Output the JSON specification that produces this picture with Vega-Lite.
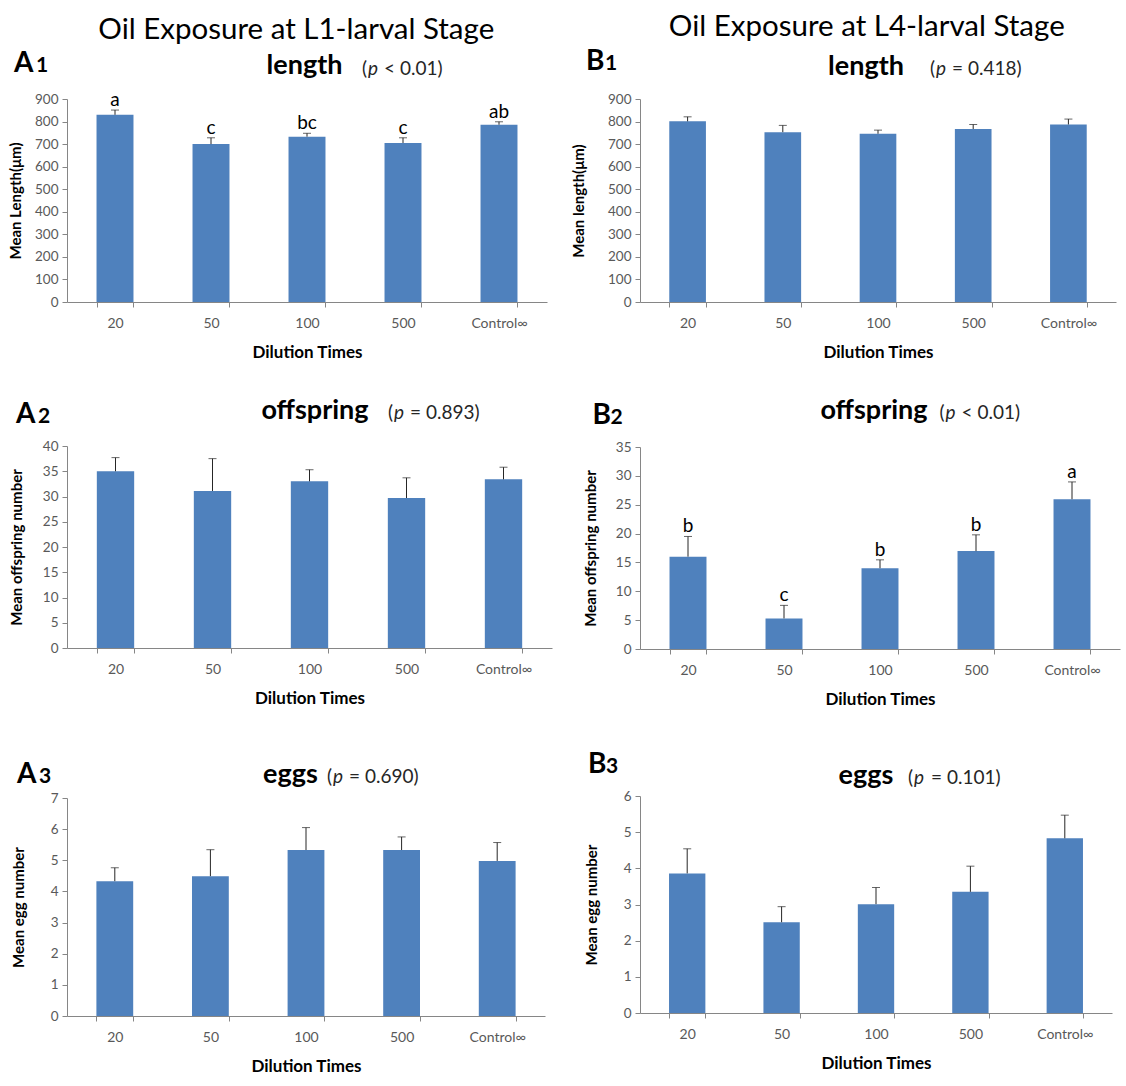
{
  "$schema": "https://vega.github.io/schema/vega-lite/v6.json",
  "background": "white",
  "padding": {"left": 8, "top": 12, "right": 2, "bottom": 2},
  "datasets": {
    "bars": [
      {"panel": "A1", "dilution": "20", "mean": 830, "upper": 851, "letter": "a"},
      {"panel": "A1", "dilution": "50", "mean": 700, "upper": 728, "letter": "c"},
      {"panel": "A1", "dilution": "100", "mean": 733, "upper": 748, "letter": "bc"},
      {"panel": "A1", "dilution": "500", "mean": 705, "upper": 728, "letter": "c"},
      {"panel": "A1", "dilution": "Control∞", "mean": 786, "upper": 799, "letter": "ab"},
      {"panel": "A2", "dilution": "20", "mean": 35.0, "upper": 37.7, "letter": ""},
      {"panel": "A2", "dilution": "50", "mean": 31.1, "upper": 37.5, "letter": ""},
      {"panel": "A2", "dilution": "100", "mean": 33.0, "upper": 35.3, "letter": ""},
      {"panel": "A2", "dilution": "500", "mean": 29.7, "upper": 33.7, "letter": ""},
      {"panel": "A2", "dilution": "Control∞", "mean": 33.4, "upper": 35.8, "letter": ""},
      {"panel": "A3", "dilution": "20", "mean": 4.33, "upper": 4.76, "letter": ""},
      {"panel": "A3", "dilution": "50", "mean": 4.49, "upper": 5.34, "letter": ""},
      {"panel": "A3", "dilution": "100", "mean": 5.33, "upper": 6.05, "letter": ""},
      {"panel": "A3", "dilution": "500", "mean": 5.33, "upper": 5.75, "letter": ""},
      {"panel": "A3", "dilution": "Control∞", "mean": 4.98, "upper": 5.57, "letter": ""},
      {"panel": "B1", "dilution": "20", "mean": 801, "upper": 821, "letter": ""},
      {"panel": "B1", "dilution": "50", "mean": 753, "upper": 783, "letter": ""},
      {"panel": "B1", "dilution": "100", "mean": 746, "upper": 762, "letter": ""},
      {"panel": "B1", "dilution": "500", "mean": 767, "upper": 787, "letter": ""},
      {"panel": "B1", "dilution": "Control∞", "mean": 787, "upper": 811, "letter": ""},
      {"panel": "B2", "dilution": "20", "mean": 16.0, "upper": 19.5, "letter": "b"},
      {"panel": "B2", "dilution": "50", "mean": 5.3, "upper": 7.56, "letter": "c"},
      {"panel": "B2", "dilution": "100", "mean": 14.0, "upper": 15.45, "letter": "b"},
      {"panel": "B2", "dilution": "500", "mean": 16.96, "upper": 19.78, "letter": "b"},
      {"panel": "B2", "dilution": "Control∞", "mean": 25.95, "upper": 28.95, "letter": "a"},
      {"panel": "B3", "dilution": "20", "mean": 3.86, "upper": 4.54, "letter": ""},
      {"panel": "B3", "dilution": "50", "mean": 2.51, "upper": 2.94, "letter": ""},
      {"panel": "B3", "dilution": "100", "mean": 3.01, "upper": 3.47, "letter": ""},
      {"panel": "B3", "dilution": "500", "mean": 3.35, "upper": 4.06, "letter": ""},
      {"panel": "B3", "dilution": "Control∞", "mean": 4.83, "upper": 5.47, "letter": ""}
    ],
    "panels": [
      {"panel": "A1", "letter": "A", "num": "1", "title": "length", "rest": "< 0.01)"},
      {"panel": "A2", "letter": "A", "num": "2", "title": "offspring", "rest": "= 0.893)"},
      {"panel": "A3", "letter": "A", "num": "3", "title": "eggs", "rest": "= 0.690)"},
      {"panel": "B1", "letter": "B", "num": "1", "title": "length", "rest": "= 0.418)"},
      {"panel": "B2", "letter": "B", "num": "2", "title": "offspring", "rest": "< 0.01)"},
      {"panel": "B3", "letter": "B", "num": "3", "title": "eggs", "rest": "= 0.101)"}
    ]
  },
  "spacing": 19,
  "hconcat": [
    {
      "title": {"text": "Oil Exposure at L1-larval Stage", "dx": 16},
      "spacing": 36,
      "vconcat": [
        {
          "width": 480, "height": 203,
          "layer": [
            {"data": {"name": "bars"}, "transform": [{"filter": "datum.panel === 'A1'"}],
             "mark": {"type": "bar", "color": "#4F81BD"},
             "encoding": {
               "x": {"field": "dilution", "type": "nominal", "scale": {"domain": ["20", "50", "100", "500", "Control∞"], "paddingInner": 0.615, "paddingOuter": 0.3075}, "axis": {"title": "Dilution Times", "labelOverlap": false}},
               "y": {"field": "mean", "type": "quantitative", "scale": {"domain": [0, 900], "nice": false}, "axis": {"title": "Mean Length(μm)", "values": [0, 100, 200, 300, 400, 500, 600, 700, 800, 900], "tickCount": 10, "labelOverlap": false, "titlePadding": 11}}}},
            {"data": {"name": "bars"}, "transform": [{"filter": "datum.panel === 'A1'"}],
             "mark": {"type": "rule", "color": "#262626", "strokeWidth": 1},
             "encoding": {"x": {"field": "dilution", "type": "nominal"}, "y": {"field": "mean", "type": "quantitative"}, "y2": {"field": "upper"}}},
            {"data": {"name": "bars"}, "transform": [{"filter": "datum.panel === 'A1'"}],
             "mark": {"type": "tick", "color": "#262626", "size": 8, "thickness": 1},
             "encoding": {"x": {"field": "dilution", "type": "nominal"}, "y": {"field": "upper", "type": "quantitative"}}},
            {"data": {"name": "bars"}, "transform": [{"filter": "datum.panel === 'A1'"}],
             "mark": {"type": "text", "fontSize": 19, "dy": -4, "baseline": "alphabetic", "color": "#000000"},
             "encoding": {"x": {"field": "dilution", "type": "nominal"}, "y": {"field": "upper", "type": "quantitative"}, "text": {"field": "letter"}}},
            {"data": {"name": "panels"}, "transform": [{"filter": "datum.panel === 'A1'"}],
             "mark": {"type": "text", "fontSize": 28, "fontWeight": "bold", "align": "left", "baseline": "alphabetic", "color": "#000000", "dx": -101},
             "encoding": {"x": {"datum": "20"}, "y": {"datum": 1019.7}, "text": {"field": "letter"}}},
            {"data": {"name": "panels"}, "transform": [{"filter": "datum.panel === 'A1'"}],
             "mark": {"type": "text", "fontSize": 21, "fontWeight": "bold", "align": "left", "baseline": "alphabetic", "color": "#000000", "dx": -79},
             "encoding": {"x": {"datum": "20"}, "y": {"datum": 1019.7}, "text": {"field": "num"}}},
            {"data": {"name": "panels"}, "transform": [{"filter": "datum.panel === 'A1'"}],
             "mark": {"type": "text", "fontSize": 27, "fontWeight": "bold", "align": "center", "baseline": "alphabetic", "color": "#000000", "dx": -2.5},
             "encoding": {"x": {"datum": "100"}, "y": {"datum": 1010.8}, "text": {"field": "title"}}},
            {"data": {"name": "panels"}, "transform": [{"filter": "datum.panel === 'A1'"}],
             "mark": {"type": "text", "text": "(", "fontSize": 19, "align": "left", "baseline": "alphabetic", "color": "#262626", "dx": 55},
             "encoding": {"x": {"datum": "100"}, "y": {"datum": 1006.4}}},
            {"data": {"name": "panels"}, "transform": [{"filter": "datum.panel === 'A1'"}],
             "mark": {"type": "text", "text": "p", "fontSize": 19, "fontStyle": "italic", "align": "left", "baseline": "alphabetic", "color": "#262626", "dx": 61},
             "encoding": {"x": {"datum": "100"}, "y": {"datum": 1006.4}}},
            {"data": {"name": "panels"}, "transform": [{"filter": "datum.panel === 'A1'"}],
             "mark": {"type": "text", "fontSize": 19, "align": "left", "baseline": "alphabetic", "color": "#262626", "dx": 77},
             "encoding": {"x": {"datum": "100"}, "y": {"datum": 1006.4}, "text": {"field": "rest"}}}
          ]
        },
        {
          "spacing": 54,
          "vconcat": [
            {
              "width": 485, "height": 202,
              "layer": [
                {"data": {"name": "bars"}, "transform": [{"filter": "datum.panel === 'A2'"}],
                 "mark": {"type": "bar", "color": "#4F81BD"},
                 "encoding": {
                   "x": {"field": "dilution", "type": "nominal", "scale": {"domain": ["20", "50", "100", "500", "Control∞"], "paddingInner": 0.615, "paddingOuter": 0.3075}, "axis": {"title": "Dilution Times", "labelOverlap": false}},
                   "y": {"field": "mean", "type": "quantitative", "scale": {"domain": [0, 40], "nice": false}, "axis": {"title": "Mean offspring number", "values": [0, 5, 10, 15, 20, 25, 30, 35, 40], "tickCount": 9, "labelOverlap": false, "titlePadding": 18}}}},
                {"data": {"name": "bars"}, "transform": [{"filter": "datum.panel === 'A2'"}],
                 "mark": {"type": "rule", "color": "#262626", "strokeWidth": 1},
                 "encoding": {"x": {"field": "dilution", "type": "nominal"}, "y": {"field": "mean", "type": "quantitative"}, "y2": {"field": "upper"}}},
                {"data": {"name": "bars"}, "transform": [{"filter": "datum.panel === 'A2'"}],
                 "mark": {"type": "tick", "color": "#262626", "size": 8, "thickness": 1},
                 "encoding": {"x": {"field": "dilution", "type": "nominal"}, "y": {"field": "upper", "type": "quantitative"}}},
                {"data": {"name": "panels"}, "transform": [{"filter": "datum.panel === 'A2'"}],
                 "mark": {"type": "text", "fontSize": 28, "fontWeight": "bold", "align": "left", "baseline": "alphabetic", "color": "#000000", "dx": -99.5},
                 "encoding": {"x": {"datum": "20"}, "y": {"datum": 44.55}, "text": {"field": "letter"}}},
                {"data": {"name": "panels"}, "transform": [{"filter": "datum.panel === 'A2'"}],
                 "mark": {"type": "text", "fontSize": 21, "fontWeight": "bold", "align": "left", "baseline": "alphabetic", "color": "#000000", "dx": -77.5},
                 "encoding": {"x": {"datum": "20"}, "y": {"datum": 44.55}, "text": {"field": "num"}}},
                {"data": {"name": "panels"}, "transform": [{"filter": "datum.panel === 'A2'"}],
                 "mark": {"type": "text", "fontSize": 27, "fontWeight": "bold", "align": "center", "baseline": "alphabetic", "color": "#000000", "dx": 5.5},
                 "encoding": {"x": {"datum": "100"}, "y": {"datum": 45.35}, "text": {"field": "title"}}},
                {"data": {"name": "panels"}, "transform": [{"filter": "datum.panel === 'A2'"}],
                 "mark": {"type": "text", "text": "(", "fontSize": 19, "align": "left", "baseline": "alphabetic", "color": "#262626", "dx": 78.5},
                 "encoding": {"x": {"datum": "100"}, "y": {"datum": 45.35}}},
                {"data": {"name": "panels"}, "transform": [{"filter": "datum.panel === 'A2'"}],
                 "mark": {"type": "text", "text": "p", "fontSize": 19, "fontStyle": "italic", "align": "left", "baseline": "alphabetic", "color": "#262626", "dx": 84.5},
                 "encoding": {"x": {"datum": "100"}, "y": {"datum": 45.35}}},
                {"data": {"name": "panels"}, "transform": [{"filter": "datum.panel === 'A2'"}],
                 "mark": {"type": "text", "fontSize": 19, "align": "left", "baseline": "alphabetic", "color": "#262626", "dx": 100.5},
                 "encoding": {"x": {"datum": "100"}, "y": {"datum": 45.35}, "text": {"field": "rest"}}}
              ]
            },
            {
              "width": 478, "height": 218,
              "layer": [
                {"data": {"name": "bars"}, "transform": [{"filter": "datum.panel === 'A3'"}],
                 "mark": {"type": "bar", "color": "#4F81BD"},
                 "encoding": {
                   "x": {"field": "dilution", "type": "nominal", "scale": {"domain": ["20", "50", "100", "500", "Control∞"], "paddingInner": 0.615, "paddingOuter": 0.3075}, "axis": {"title": "Dilution Times", "labelOverlap": false}},
                   "y": {"field": "mean", "type": "quantitative", "scale": {"domain": [0, 7], "nice": false}, "axis": {"title": "Mean egg number", "values": [0, 1, 2, 3, 4, 5, 6, 7], "tickCount": 8, "labelOverlap": false, "titlePadding": 24}}}},
                {"data": {"name": "bars"}, "transform": [{"filter": "datum.panel === 'A3'"}],
                 "mark": {"type": "rule", "color": "#262626", "strokeWidth": 1},
                 "encoding": {"x": {"field": "dilution", "type": "nominal"}, "y": {"field": "mean", "type": "quantitative"}, "y2": {"field": "upper"}}},
                {"data": {"name": "bars"}, "transform": [{"filter": "datum.panel === 'A3'"}],
                 "mark": {"type": "tick", "color": "#262626", "size": 8, "thickness": 1},
                 "encoding": {"x": {"field": "dilution", "type": "nominal"}, "y": {"field": "upper", "type": "quantitative"}}},
                {"data": {"name": "panels"}, "transform": [{"filter": "datum.panel === 'A3'"}],
                 "mark": {"type": "text", "fontSize": 28, "fontWeight": "bold", "align": "left", "baseline": "alphabetic", "color": "#000000", "dx": -97.8},
                 "encoding": {"x": {"datum": "20"}, "y": {"datum": 7.482}, "text": {"field": "letter"}}},
                {"data": {"name": "panels"}, "transform": [{"filter": "datum.panel === 'A3'"}],
                 "mark": {"type": "text", "fontSize": 21, "fontWeight": "bold", "align": "left", "baseline": "alphabetic", "color": "#000000", "dx": -75.8},
                 "encoding": {"x": {"datum": "20"}, "y": {"datum": 7.482}, "text": {"field": "num"}}},
                {"data": {"name": "panels"}, "transform": [{"filter": "datum.panel === 'A3'"}],
                 "mark": {"type": "text", "fontSize": 27, "fontWeight": "bold", "align": "center", "baseline": "alphabetic", "color": "#000000", "dx": -15.5},
                 "encoding": {"x": {"datum": "100"}, "y": {"datum": 7.482}, "text": {"field": "title"}}},
                {"data": {"name": "panels"}, "transform": [{"filter": "datum.panel === 'A3'"}],
                 "mark": {"type": "text", "text": "(", "fontSize": 19, "align": "left", "baseline": "alphabetic", "color": "#262626", "dx": 21},
                 "encoding": {"x": {"datum": "100"}, "y": {"datum": 7.482}}},
                {"data": {"name": "panels"}, "transform": [{"filter": "datum.panel === 'A3'"}],
                 "mark": {"type": "text", "text": "p", "fontSize": 19, "fontStyle": "italic", "align": "left", "baseline": "alphabetic", "color": "#262626", "dx": 27},
                 "encoding": {"x": {"datum": "100"}, "y": {"datum": 7.482}}},
                {"data": {"name": "panels"}, "transform": [{"filter": "datum.panel === 'A3'"}],
                 "mark": {"type": "text", "fontSize": 19, "align": "left", "baseline": "alphabetic", "color": "#262626", "dx": 43},
                 "encoding": {"x": {"datum": "100"}, "y": {"datum": 7.482}, "text": {"field": "rest"}}}
              ]
            }
          ]
        }
      ]
    },
    {
      "title": {"text": "Oil Exposure at L4-larval Stage", "dx": 21},
      "spacing": 37,
      "vconcat": [
        {
          "width": 476, "height": 203,
          "layer": [
            {"data": {"name": "bars"}, "transform": [{"filter": "datum.panel === 'B1'"}],
             "mark": {"type": "bar", "color": "#4F81BD"},
             "encoding": {
               "x": {"field": "dilution", "type": "nominal", "scale": {"domain": ["20", "50", "100", "500", "Control∞"], "paddingInner": 0.615, "paddingOuter": 0.3075}, "axis": {"title": "Dilution Times", "labelOverlap": false}},
               "y": {"field": "mean", "type": "quantitative", "scale": {"domain": [0, 900], "nice": false}, "axis": {"title": "Mean length(μm)", "values": [0, 100, 200, 300, 400, 500, 600, 700, 800, 900], "tickCount": 10, "labelOverlap": false, "titlePadding": 21}}}},
            {"data": {"name": "bars"}, "transform": [{"filter": "datum.panel === 'B1'"}],
             "mark": {"type": "rule", "color": "#262626", "strokeWidth": 1},
             "encoding": {"x": {"field": "dilution", "type": "nominal"}, "y": {"field": "mean", "type": "quantitative"}, "y2": {"field": "upper"}}},
            {"data": {"name": "bars"}, "transform": [{"filter": "datum.panel === 'B1'"}],
             "mark": {"type": "tick", "color": "#262626", "size": 8, "thickness": 1},
             "encoding": {"x": {"field": "dilution", "type": "nominal"}, "y": {"field": "upper", "type": "quantitative"}}},
            {"data": {"name": "panels"}, "transform": [{"filter": "datum.panel === 'B1'"}],
             "mark": {"type": "text", "fontSize": 28, "fontWeight": "bold", "align": "left", "baseline": "alphabetic", "color": "#000000", "dx": -101.6},
             "encoding": {"x": {"datum": "20"}, "y": {"datum": 1028.6}, "text": {"field": "letter"}}},
            {"data": {"name": "panels"}, "transform": [{"filter": "datum.panel === 'B1'"}],
             "mark": {"type": "text", "fontSize": 21, "fontWeight": "bold", "align": "left", "baseline": "alphabetic", "color": "#000000", "dx": -82.6},
             "encoding": {"x": {"datum": "20"}, "y": {"datum": 1028.6}, "text": {"field": "num"}}},
            {"data": {"name": "panels"}, "transform": [{"filter": "datum.panel === 'B1'"}],
             "mark": {"type": "text", "fontSize": 27, "fontWeight": "bold", "align": "center", "baseline": "alphabetic", "color": "#000000", "dx": -12},
             "encoding": {"x": {"datum": "100"}, "y": {"datum": 1006.4}, "text": {"field": "title"}}},
            {"data": {"name": "panels"}, "transform": [{"filter": "datum.panel === 'B1'"}],
             "mark": {"type": "text", "text": "(", "fontSize": 19, "align": "left", "baseline": "alphabetic", "color": "#262626", "dx": 52},
             "encoding": {"x": {"datum": "100"}, "y": {"datum": 1006.4}}},
            {"data": {"name": "panels"}, "transform": [{"filter": "datum.panel === 'B1'"}],
             "mark": {"type": "text", "text": "p", "fontSize": 19, "fontStyle": "italic", "align": "left", "baseline": "alphabetic", "color": "#262626", "dx": 58},
             "encoding": {"x": {"datum": "100"}, "y": {"datum": 1006.4}}},
            {"data": {"name": "panels"}, "transform": [{"filter": "datum.panel === 'B1'"}],
             "mark": {"type": "text", "fontSize": 19, "align": "left", "baseline": "alphabetic", "color": "#262626", "dx": 74},
             "encoding": {"x": {"datum": "100"}, "y": {"datum": 1006.4}, "text": {"field": "rest"}}}
          ]
        },
        {
          "spacing": 43,
          "vconcat": [
            {
              "width": 480, "height": 202,
              "layer": [
                {"data": {"name": "bars"}, "transform": [{"filter": "datum.panel === 'B2'"}],
                 "mark": {"type": "bar", "color": "#4F81BD"},
                 "encoding": {
                   "x": {"field": "dilution", "type": "nominal", "scale": {"domain": ["20", "50", "100", "500", "Control∞"], "paddingInner": 0.615, "paddingOuter": 0.3075}, "axis": {"title": "Dilution Times", "labelOverlap": false}},
                   "y": {"field": "mean", "type": "quantitative", "scale": {"domain": [0, 35], "nice": false}, "axis": {"title": "Mean offspring number", "values": [0, 5, 10, 15, 20, 25, 30, 35], "tickCount": 8, "labelOverlap": false, "titlePadding": 17}}}},
                {"data": {"name": "bars"}, "transform": [{"filter": "datum.panel === 'B2'"}],
                 "mark": {"type": "rule", "color": "#262626", "strokeWidth": 1},
                 "encoding": {"x": {"field": "dilution", "type": "nominal"}, "y": {"field": "mean", "type": "quantitative"}, "y2": {"field": "upper"}}},
                {"data": {"name": "bars"}, "transform": [{"filter": "datum.panel === 'B2'"}],
                 "mark": {"type": "tick", "color": "#262626", "size": 8, "thickness": 1},
                 "encoding": {"x": {"field": "dilution", "type": "nominal"}, "y": {"field": "upper", "type": "quantitative"}}},
                {"data": {"name": "bars"}, "transform": [{"filter": "datum.panel === 'B2'"}],
                 "mark": {"type": "text", "fontSize": 19, "dy": -4, "baseline": "alphabetic", "color": "#000000"},
                 "encoding": {"x": {"field": "dilution", "type": "nominal"}, "y": {"field": "upper", "type": "quantitative"}, "text": {"field": "letter"}}},
                {"data": {"name": "panels"}, "transform": [{"filter": "datum.panel === 'B2'"}],
                 "mark": {"type": "text", "fontSize": 28, "fontWeight": "bold", "align": "left", "baseline": "alphabetic", "color": "#000000", "dx": -95.5},
                 "encoding": {"x": {"datum": "20"}, "y": {"datum": 38.99}, "text": {"field": "letter"}}},
                {"data": {"name": "panels"}, "transform": [{"filter": "datum.panel === 'B2'"}],
                 "mark": {"type": "text", "fontSize": 21, "fontWeight": "bold", "align": "left", "baseline": "alphabetic", "color": "#000000", "dx": -77.5},
                 "encoding": {"x": {"datum": "20"}, "y": {"datum": 38.99}, "text": {"field": "num"}}},
                {"data": {"name": "panels"}, "transform": [{"filter": "datum.panel === 'B2'"}],
                 "mark": {"type": "text", "fontSize": 27, "fontWeight": "bold", "align": "center", "baseline": "alphabetic", "color": "#000000", "dx": -6},
                 "encoding": {"x": {"datum": "100"}, "y": {"datum": 39.85}, "text": {"field": "title"}}},
                {"data": {"name": "panels"}, "transform": [{"filter": "datum.panel === 'B2'"}],
                 "mark": {"type": "text", "text": "(", "fontSize": 19, "align": "left", "baseline": "alphabetic", "color": "#262626", "dx": 59.5},
                 "encoding": {"x": {"datum": "100"}, "y": {"datum": 39.85}}},
                {"data": {"name": "panels"}, "transform": [{"filter": "datum.panel === 'B2'"}],
                 "mark": {"type": "text", "text": "p", "fontSize": 19, "fontStyle": "italic", "align": "left", "baseline": "alphabetic", "color": "#262626", "dx": 65.5},
                 "encoding": {"x": {"datum": "100"}, "y": {"datum": 39.85}}},
                {"data": {"name": "panels"}, "transform": [{"filter": "datum.panel === 'B2'"}],
                 "mark": {"type": "text", "fontSize": 19, "align": "left", "baseline": "alphabetic", "color": "#262626", "dx": 81.5},
                 "encoding": {"x": {"datum": "100"}, "y": {"datum": 39.85}, "text": {"field": "rest"}}}
              ]
            },
            {
              "width": 472, "height": 217,
              "layer": [
                {"data": {"name": "bars"}, "transform": [{"filter": "datum.panel === 'B3'"}],
                 "mark": {"type": "bar", "color": "#4F81BD"},
                 "encoding": {
                   "x": {"field": "dilution", "type": "nominal", "scale": {"domain": ["20", "50", "100", "500", "Control∞"], "paddingInner": 0.615, "paddingOuter": 0.3075}, "axis": {"title": "Dilution Times", "labelOverlap": false}},
                   "y": {"field": "mean", "type": "quantitative", "scale": {"domain": [0, 6], "nice": false}, "axis": {"title": "Mean egg number", "values": [0, 1, 2, 3, 4, 5, 6], "tickCount": 7, "labelOverlap": false, "titlePadding": 24}}}},
                {"data": {"name": "bars"}, "transform": [{"filter": "datum.panel === 'B3'"}],
                 "mark": {"type": "rule", "color": "#262626", "strokeWidth": 1},
                 "encoding": {"x": {"field": "dilution", "type": "nominal"}, "y": {"field": "mean", "type": "quantitative"}, "y2": {"field": "upper"}}},
                {"data": {"name": "bars"}, "transform": [{"filter": "datum.panel === 'B3'"}],
                 "mark": {"type": "tick", "color": "#262626", "size": 8, "thickness": 1},
                 "encoding": {"x": {"field": "dilution", "type": "nominal"}, "y": {"field": "upper", "type": "quantitative"}}},
                {"data": {"name": "panels"}, "transform": [{"filter": "datum.panel === 'B3'"}],
                 "mark": {"type": "text", "fontSize": 28, "fontWeight": "bold", "align": "left", "baseline": "alphabetic", "color": "#000000", "dx": -99.2},
                 "encoding": {"x": {"datum": "20"}, "y": {"datum": 6.636}, "text": {"field": "letter"}}},
                {"data": {"name": "panels"}, "transform": [{"filter": "datum.panel === 'B3'"}],
                 "mark": {"type": "text", "fontSize": 21, "fontWeight": "bold", "align": "left", "baseline": "alphabetic", "color": "#000000", "dx": -81.2},
                 "encoding": {"x": {"datum": "20"}, "y": {"datum": 6.636}, "text": {"field": "num"}}},
                {"data": {"name": "panels"}, "transform": [{"filter": "datum.panel === 'B3'"}],
                 "mark": {"type": "text", "fontSize": 27, "fontWeight": "bold", "align": "center", "baseline": "alphabetic", "color": "#000000", "dx": -10},
                 "encoding": {"x": {"datum": "100"}, "y": {"datum": 6.332}, "text": {"field": "title"}}},
                {"data": {"name": "panels"}, "transform": [{"filter": "datum.panel === 'B3'"}],
                 "mark": {"type": "text", "text": "(", "fontSize": 19, "align": "left", "baseline": "alphabetic", "color": "#262626", "dx": 32},
                 "encoding": {"x": {"datum": "100"}, "y": {"datum": 6.332}}},
                {"data": {"name": "panels"}, "transform": [{"filter": "datum.panel === 'B3'"}],
                 "mark": {"type": "text", "text": "p", "fontSize": 19, "fontStyle": "italic", "align": "left", "baseline": "alphabetic", "color": "#262626", "dx": 38},
                 "encoding": {"x": {"datum": "100"}, "y": {"datum": 6.332}}},
                {"data": {"name": "panels"}, "transform": [{"filter": "datum.panel === 'B3'"}],
                 "mark": {"type": "text", "fontSize": 19, "align": "left", "baseline": "alphabetic", "color": "#262626", "dx": 55},
                 "encoding": {"x": {"datum": "100"}, "y": {"datum": 6.332}, "text": {"field": "rest"}}}
              ]
            }
          ]
        }
      ]
    }
  ],
  "config": {
    "font": "Lato",
    "view": {"stroke": null},
    "text": {"font": "Lato"},
    "title": {"font": "Lato", "fontSize": 29.5, "fontWeight": "normal", "color": "#000000", "anchor": "middle", "offset": 5},
    "axis": {"labelFont": "Lato", "titleFont": "Lato", "labelColor": "#595959", "titleColor": "#000000", "domainColor": "#868686", "tickColor": "#868686", "grid": false, "tickSize": 5, "labelFontSize": 13.5, "titleFontWeight": "bold", "labelOverlap": false},
    "axisX": {"labelAngle": 0, "tickBand": "extent", "labelPadding": 9, "labelFontSize": 14, "titleFontSize": 17, "titlePadding": 14},
    "axisY": {"titleFontSize": 15, "labelPadding": 4, "labelOverlap": false}
  }
}
